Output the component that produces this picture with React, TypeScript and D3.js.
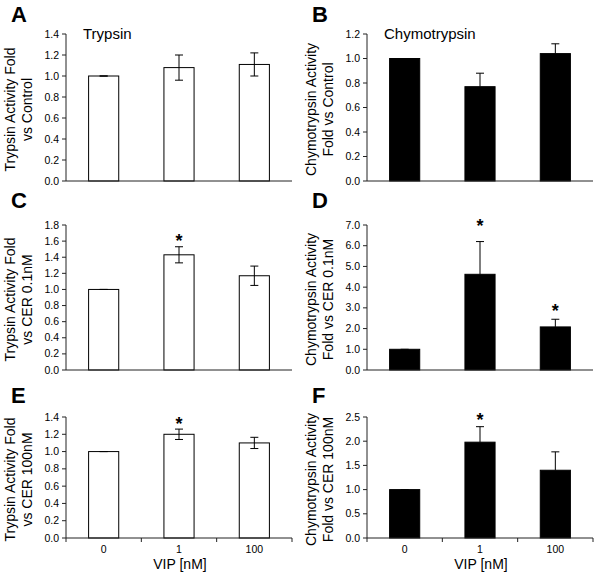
import React from "react";
import { scaleBand, scaleLinear, range } from "d3";

const doses = ["0", "1", "100"];

// panel A: trypsin vs control
const trypsinCtrl = [1.0, 1.08, 1.11];
const trypsinCtrlErr = [0, 0.12, 0.11];
// panel B: chymotrypsin vs control
const chymoCtrl = [1.0, 0.77, 1.04];
const chymoCtrlErr = [0, 0.11, 0.08];
// panel C: trypsin vs CER 0.1nM
const trypsinCer01 = [1.0, 1.43, 1.17];
const trypsinCer01Err = [0, 0.1, 0.12];
const trypsinCer01Star = [null, 1.65, null];
// panel D: chymotrypsin vs CER 0.1nM
const chymoCer01 = [1.0, 4.62, 2.08];
const chymoCer01Err = [0, 1.58, 0.37];
const chymoCer01Star = [null, 7.15, 3.06];
// panel E: trypsin vs CER 100nM
const trypsinCer100 = [1.0, 1.2, 1.1];
const trypsinCer100Err = [0, 0.06, 0.065];
const trypsinCer100Star = [null, 1.36, null];
// panel F: chymotrypsin vs CER 100nM
const chymoCer100 = [1.0, 1.98, 1.4];
const chymoCer100Err = [0, 0.32, 0.38];
const chymoCer100Star = [null, 2.53, null];

const FONT = "'Liberation Sans', Arial, Helvetica, sans-serif";
const AXIS_W = 226;

type PanelProps = {
  letter: string;
  x0: number;
  yTop: number;
  yBot: number;
  max: number;
  step: number;
  values: number[];
  errors: number[];
  stars?: (number | null)[];
  filled: boolean;
  label: string[];
  title?: string;
  xAxis?: boolean;
  letterY: number;
};

function Panel(p: PanelProps) {
  const x = scaleBand()
    .domain(doses)
    .range([p.x0, p.x0 + AXIS_W])
    .paddingInner(0.6)
    .paddingOuter(0.3);
  const y = scaleLinear().domain([0, p.max]).range([p.yBot, p.yTop]);
  const ticks = range(0, p.max + p.step / 2, p.step);
  const bw = x.bandwidth();
  const step = x.step();
  const boundaries = [p.x0, p.x0 + step, p.x0 + 2 * step, p.x0 + AXIS_W];
  const labelCx = p.x0 - 51;
  const labelCy = (p.yTop + p.yBot) / 2 + 2;
  return (
    <g>
      <text x={p.x0 - 55} y={p.letterY} fontSize={22} fontWeight="bold">
        {p.letter}
      </text>
      {p.title && (
        <text x={p.x0 + 17} y={p.yTop + 5} fontSize={15}>
          {p.title}
        </text>
      )}
      {/* y label */}
      <text
        transform={`translate(${labelCx},${labelCy}) rotate(-90)`}
        textAnchor="middle"
        fontSize={14}
      >
        <tspan x={0} dy={0}>{p.label[0]}</tspan>
        <tspan x={0} dy={17}>{p.label[1]}</tspan>
      </text>
      {/* bars */}
      {p.values.map((v, i) => {
        const bx = x(doses[i]) as number;
        const cx = bx + bw / 2;
        const top = v + p.errors[i];
        const bottom = p.filled ? v : v - p.errors[i];
        return (
          <g key={i}>
            <rect
              x={bx}
              y={y(v)}
              width={bw}
              height={p.yBot - y(v)}
              fill={p.filled ? "#000" : "#fff"}
              stroke="#000"
              strokeWidth={1}
            />
            <line x1={cx} x2={cx} y1={y(bottom)} y2={y(top)} stroke="#000" />
            <line x1={cx - 4} x2={cx + 4} y1={y(top)} y2={y(top)} stroke="#000" />
            {!p.filled && (
              <line x1={cx - 4} x2={cx + 4} y1={y(bottom)} y2={y(bottom)} stroke="#000" />
            )}
            {p.stars && p.stars[i] != null && (
              <text x={cx} y={y(p.stars[i] as number) + 10} textAnchor="middle" fontSize={18} fontWeight="bold">
                *
              </text>
            )}
          </g>
        );
      })}
      {/* y axis */}
      <line x1={p.x0} x2={p.x0} y1={p.yTop} y2={p.yBot} stroke="#222" />
      {ticks.map((t) => (
        <g key={t}>
          <line x1={p.x0 - 4} x2={p.x0} y1={y(t)} y2={y(t)} stroke="#222" />
          <text x={p.x0 - 7} y={y(t) + 3.5} textAnchor="end" fontSize={10.5}>
            {t.toFixed(1)}
          </text>
        </g>
      ))}
      {/* x axis */}
      <line x1={p.x0} x2={p.x0 + AXIS_W} y1={p.yBot} y2={p.yBot} stroke="#222" />
      {p.xAxis && (
        <g>
          {boundaries.map((b, i) => (
            <line key={i} x1={b} x2={b} y1={p.yBot} y2={p.yBot + 4} stroke="#222" />
          ))}
          {doses.map((d) => (
            <text key={d} x={(x(d) as number) + bw / 2} y={p.yBot + 15} textAnchor="middle" fontSize={10.5}>
              {d}
            </text>
          ))}
          <text x={p.x0 + AXIS_W / 2 + 1} y={p.yBot + 31} textAnchor="middle" fontSize={14}>
            VIP [nM]
          </text>
        </g>
      )}
    </g>
  );
}

export default function App() {
  return (
    <svg
      width={600}
      height={576}
      style={{ position: "absolute", left: 0, top: 0, background: "#fff" }}
      fontFamily={FONT}
    >
      <Panel letter="A" x0={66} yTop={34} yBot={181} max={1.4} step={0.2}
        values={trypsinCtrl} errors={trypsinCtrlErr} filled={false}
        label={["Trypsin Activity Fold", "vs Control"]} title="Trypsin" letterY={22} />
      <Panel letter="B" x0={367} yTop={34} yBot={181} max={1.2} step={0.2}
        values={chymoCtrl} errors={chymoCtrlErr} filled={true}
        label={["Chymotrypsin Activity", "Fold vs Control"]} title="Chymotrypsin" letterY={22} />
      <Panel letter="C" x0={66} yTop={225} yBot={370} max={1.8} step={0.2}
        values={trypsinCer01} errors={trypsinCer01Err} stars={trypsinCer01Star} filled={false}
        label={["Trypsin Activity Fold", "vs CER 0.1nM"]} letterY={208} />
      <Panel letter="D" x0={367} yTop={225} yBot={370} max={7} step={1}
        values={chymoCer01} errors={chymoCer01Err} stars={chymoCer01Star} filled={true}
        label={["Chymotrypsin Activity", "Fold vs CER 0.1nM"]} letterY={208} />
      <Panel letter="E" x0={66} yTop={417} yBot={538} max={1.4} step={0.2}
        values={trypsinCer100} errors={trypsinCer100Err} stars={trypsinCer100Star} filled={false}
        label={["Trypsin Activity Fold", "vs CER 100nM"]} xAxis letterY={403} />
      <Panel letter="F" x0={367} yTop={417} yBot={538} max={2.5} step={0.5}
        values={chymoCer100} errors={chymoCer100Err} stars={chymoCer100Star} filled={true}
        label={["Chymotrypsin Activity", "Fold vs CER 100nM"]} xAxis letterY={403} />
    </svg>
  );
}
